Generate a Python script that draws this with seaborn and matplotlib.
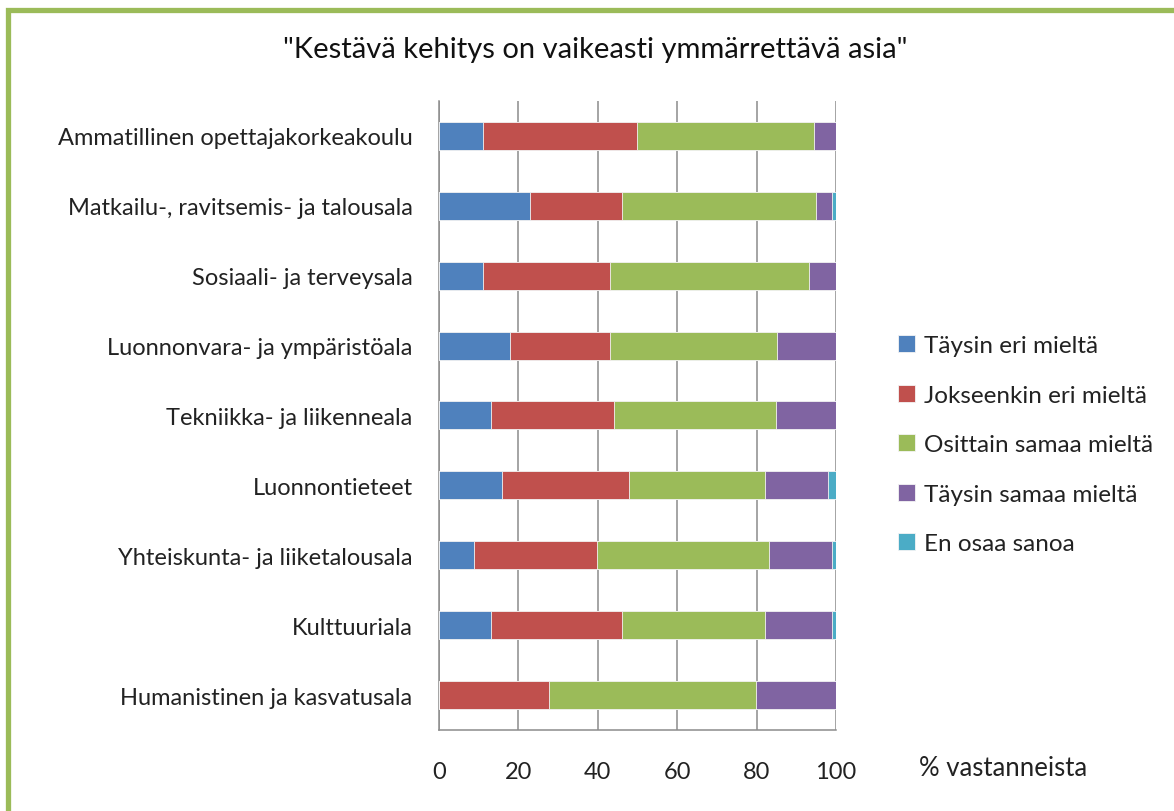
import numpy as np
import pandas as pd
import matplotlib
matplotlib.use("Agg")
import matplotlib.pyplot as plt
import seaborn as sns
from matplotlib.patches import Rectangle

# ------------------------------------------------------------------------------
# DATA (% of respondents)
# ------------------------------------------------------------------------------
categories = [
    "Ammatillinen opettajakorkeakoulu",
    "Matkailu-, ravitsemis- ja talousala",
    "Sosiaali- ja terveysala",
    "Luonnonvara- ja ympäristöala",
    "Tekniikka- ja liikenneala",
    "Luonnontieteet",
    "Yhteiskunta- ja liiketalousala",
    "Kulttuuriala",
    "Humanistinen ja kasvatusala",
]
series_names = [
    "Täysin eri mieltä",
    "Jokseenkin eri mieltä",
    "Osittain samaa mieltä",
    "Täysin samaa mieltä",
    "En osaa sanoa",
]
taysin_eri = [11.1, 23.0, 11.2, 17.9, 13.0, 15.9, 8.8, 13.0, 0.0]
jokseenkin_eri = [38.9, 23.0, 31.9, 25.2, 31.0, 32.0, 31.0, 33.0, 27.8]
osittain_samaa = [44.4, 49.0, 50.0, 42.0, 41.0, 34.2, 43.3, 36.1, 52.1]
taysin_samaa = [5.6, 4.0, 6.9, 14.9, 15.0, 15.9, 15.9, 16.9, 20.1]
en_osaa = [0.0, 1.0, 0.0, 0.0, 0.0, 2.0, 1.0, 1.0, 0.0]

colors = ["#4F81BD", "#C0504D", "#9BBB59", "#8064A2", "#4BACC6"]

df = pd.DataFrame({
    "Ala": categories,
    series_names[0]: taysin_eri,
    series_names[1]: jokseenkin_eri,
    series_names[2]: osittain_samaa,
    series_names[3]: taysin_samaa,
    series_names[4]: en_osaa,
})

# cumulative sums -> draw largest first so the bars stack visually
cum = df[series_names].cumsum(axis=1)

# ------------------------------------------------------------------------------
# PLOT
# ------------------------------------------------------------------------------
sns.set_style("white")
plt.rcParams["font.family"] = ["Lato", "DejaVu Sans"]

fig = plt.figure(figsize=(11.74, 8.12), dpi=100)
ax = fig.add_axes([0.3739, 0.0998, 0.3382, 0.7746])

for name, col in reversed(list(zip(series_names, colors))):
    sns.barplot(x=cum[name], y=df["Ala"], orient="h", color=col,
                width=0.4, ax=ax, label=name, saturation=1, zorder=3,
                edgecolor="#F4F4F4", linewidth=0.6)

handles, labels = ax.get_legend_handles_labels()
if ax.get_legend() is not None:
    ax.get_legend().remove()

ax.set_xlim(0, 100)
ax.set_ylim(len(categories) - 0.5, -0.5)
ax.set_xticks([0, 20, 40, 60, 80, 100])
ax.xaxis.grid(True, color="#8C8C8C", linewidth=1.1, zorder=0)
ax.set_axisbelow(True)
ax.set_xlabel("")
ax.set_ylabel("")

for s in ["top", "right"]:
    ax.spines[s].set_visible(False)
for s in ["left", "bottom"]:
    ax.spines[s].set_color("#8C8C8C")
    ax.spines[s].set_linewidth(1.1)

ax.tick_params(axis="x", length=7, width=1.1, color="#8C8C8C", pad=15,
               labelsize=17, labelcolor="#222222")
ax.tick_params(axis="y", which="major", length=0, pad=19, labelsize=17,
               labelcolor="#222222")
ax.set_yticks(np.arange(-0.5, len(categories), 1), minor=True)
ax.tick_params(axis="y", which="minor", length=7, width=1.1, color="#8C8C8C")

# legend in Excel order
order = [labels.index(n) for n in series_names]
fig.legend([handles[i] for i in order], [labels[i] for i in order],
           loc="center left", bbox_to_anchor=(0.765, 0.451), frameon=False,
           fontsize=17.5, handlelength=0.7, handleheight=0.7,
           handletextpad=0.35, labelspacing=1.17, labelcolor="#222222",
           borderpad=0, borderaxespad=0)

fig.text(0.507, 0.938, "\"Kestävä kehitys on vaikeasti ymmärrettävä asia\"",
         ha="center", va="center", fontsize=21, color="#111111")
fig.text(0.783, 0.054, "% vastanneista", ha="left", va="center",
         fontsize=18.5, color="#222222")

# green chart-area border (only top and left visible in the crop)
fig.patches.append(Rectangle((7.5 / 1174, -0.2), 2.0, 1.2 - 10.5 / 812,
                             transform=fig.transFigure, fill=False,
                             edgecolor="#9BBB59", linewidth=3.8))

fig.savefig("out.png", dpi=100)
